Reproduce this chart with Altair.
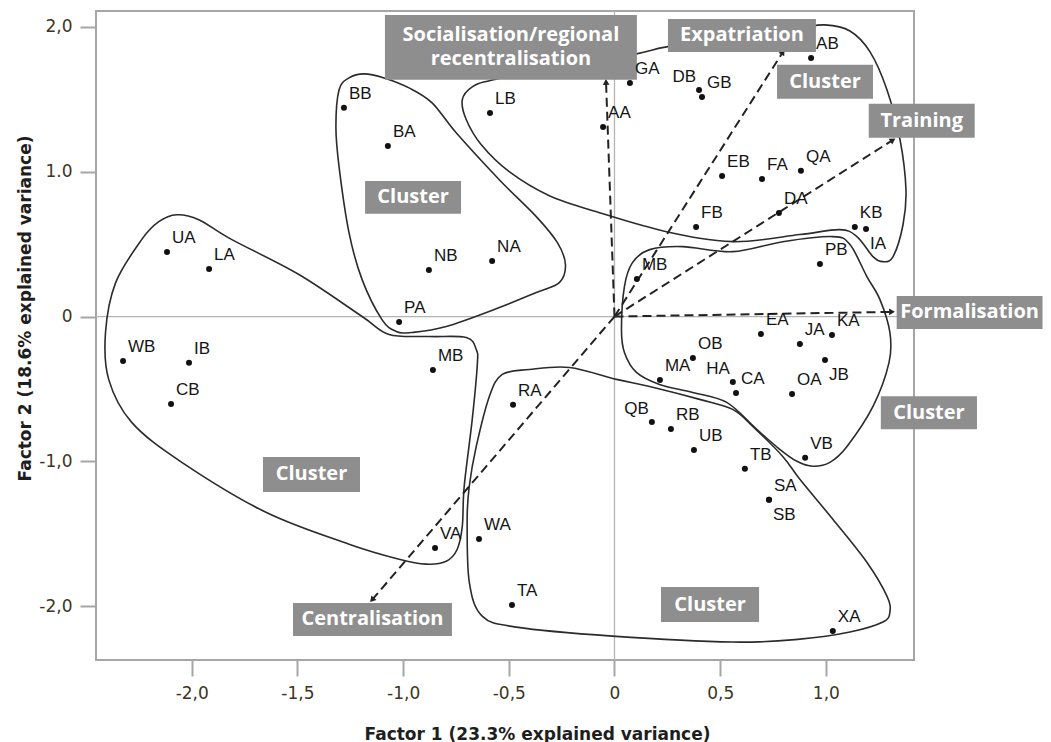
import math
import altair as alt
import pandas as pd

# ---------------- data ----------------
NAMES = ["AB", "GA", "DB", "GB", "LB", "AA", "BB", "BA", "EB", "FA", "QA", "DA", "FB", "KB", "IA", "PB",
         "UA", "LA", "NB", "NA", "MB", "PA", "EA", "JA", "KA", "OB", "MA", "HA", "CA", "OA", "JB",
         "WB", "IB", "CB", "MB", "RA", "QB", "RB", "UB", "TB", "SA", "SB", "VB", "XA", "VA", "WA", "TA"]
F1 = [0.930, 0.073, 0.400, 0.414, -0.589, -0.054, -1.280, -1.072, 0.509, 0.698, 0.882, 0.778, 0.386, 1.137, 1.190, 0.972,
      -2.117, -1.918, -0.878, -0.579, 0.106, -1.019, 0.693, 0.877, 1.029, 0.371, 0.215, 0.560, 0.575, 0.840, 0.996,
      -2.325, -2.013, -2.098, -0.859, -0.480, 0.177, 0.267, 0.376, 0.617, 0.731, 0.731, 0.902, 1.033, -0.849, -0.641, -0.485]
F2 = [1.786, 1.613, 1.565, 1.516, 1.406, 1.309, 1.441, 1.178, 0.971, 0.950, 1.006, 0.715, 0.619, 0.619, 0.605, 0.363,
      0.446, 0.329, 0.322, 0.384, 0.260, -0.037, -0.120, -0.189, -0.127, -0.286, -0.438, -0.452, -0.528, -0.535, -0.300,
      -0.307, -0.320, -0.604, -0.369, -0.610, -0.728, -0.776, -0.921, -1.052, -1.266, -1.266, -0.976, -2.171, -1.598, -1.536, -1.992]
LEFT_LABELS = ["DB", "HA", "QB"]
BELOW_LABELS = ["JB", "SB", "IA"]

# cluster outlines (closed curves, data units)
CLUSTER_A = [(-0.720, 1.497), (-0.673, 1.586), (-0.578, 1.634), (-0.261, 1.724), (0.104, 1.814), (0.246, 1.862),
             (0.592, 1.938), (0.877, 1.993), (0.995, 2.014), (1.114, 1.972), (1.209, 1.828), (1.289, 1.566),
             (1.351, 1.221), (1.379, 0.876), (1.365, 0.634), (1.318, 0.414), (1.270, 0.379), (1.223, 0.414),
             (1.147, 0.552), (1.066, 0.600), (0.877, 0.566), (0.559, 0.517), (0.246, 0.586), (-0.071, 0.717),
             (-0.308, 0.834), (-0.498, 1.000), (-0.630, 1.186), (-0.701, 1.359)]
CLUSTER_B = [(-1.303, 1.566), (-1.256, 1.648), (-1.185, 1.676), (-1.090, 1.648), (-0.972, 1.579), (-0.863, 1.476),
             (-0.749, 1.269), (-0.545, 0.945), (-0.370, 0.690), (-0.270, 0.510), (-0.232, 0.359), (-0.261, 0.234),
             (-0.370, 0.166), (-0.545, 0.062), (-0.796, -0.069), (-0.957, -0.110), (-1.033, -0.103),
             (-1.100, -0.021), (-1.194, 0.255), (-1.256, 0.579), (-1.303, 1.034), (-1.318, 1.310)]
CLUSTER_C = [(-2.071, 0.703), (-1.967, 0.669), (-1.810, 0.531), (-1.493, 0.290), (-1.194, 0.000), (-1.066, -0.124),
             (-0.877, -0.138), (-0.701, -0.145), (-0.654, -0.228), (-0.649, -0.331), (-0.673, -0.710),
             (-0.711, -1.172), (-0.720, -1.448), (-0.744, -1.607), (-0.796, -1.690), (-0.891, -1.710),
             (-1.019, -1.676), (-1.256, -1.572), (-1.649, -1.352), (-2.047, -1.007), (-2.284, -0.731),
             (-2.393, -0.434), (-2.408, -0.110), (-2.360, 0.234), (-2.237, 0.531), (-2.156, 0.655)]
CLUSTER_D = [(0.085, 0.372), (0.166, 0.462), (0.322, 0.483), (0.559, 0.448), (0.796, 0.517), (1.033, 0.552),
             (1.114, 0.497), (1.194, 0.276), (1.256, 0.117), (1.303, -0.110), (1.299, -0.317), (1.223, -0.621),
             (1.100, -0.897), (1.019, -1.007), (0.938, -1.034), (0.863, -1.000), (0.782, -0.917), (0.673, -0.779),
             (0.531, -0.593), (0.370, -0.524), (0.213, -0.469), (0.104, -0.386), (0.047, -0.248), (0.033, -0.090),
             (0.047, 0.207)]
CLUSTER_E = [(-0.531, -0.400), (-0.403, -0.366), (-0.213, -0.352), (0.009, -0.434), (0.166, -0.483), (0.403, -0.572),
             (0.559, -0.641), (0.654, -0.759), (0.796, -0.966), (0.877, -1.124), (1.033, -1.400), (1.194, -1.697),
             (1.289, -1.931), (1.303, -2.041), (1.270, -2.110), (1.114, -2.179), (0.877, -2.228), (0.559, -2.248),
             (-0.009, -2.207), (-0.464, -2.145), (-0.626, -2.069), (-0.687, -1.834), (-0.697, -1.400),
             (-0.687, -1.172), (-0.654, -0.897), (-0.592, -0.552)]

# factor arrows (end points)
ARROW_X = [-0.040, 0.797, 1.317, 1.313, -1.147]
ARROW_Y = [1.620, 1.827, 1.219, 0.032, -1.957]

# grey label boxes (one entry per box; lines separated by "\n")
BOX_TEXT = ["Socialisation/regional\nrecentralisation", "Expatriation", "Cluster", "Training", "Formalisation",
            "Cluster", "Cluster", "Cluster", "Centralisation", "Cluster"]
BOX_X1 = [-1.086, 0.253, 0.769, 1.203, 1.335, -1.180, 1.260, -1.663, -1.521, 0.220]
BOX_X2 = [0.106, 0.953, 1.223, 1.704, 2.025, -0.726, 1.715, -1.204, -0.769, 0.684]
BOX_Y1 = [1.635, 1.827, 1.504, 1.234, -0.086, 0.709, -0.778, -1.211, -2.206, -2.110]
BOX_Y2 = [2.083, 2.055, 1.738, 1.469, 0.142, 0.936, -0.550, -0.970, -1.978, -1.868]

X_TICKS = [-2, -1.5, -1, -0.5, 0, 0.5, 1]
X_LABELS = ["-2,0", "-1,5", "-1,0", "-0,5", "0", "0,5", "1,0"]
Y_TICKS = [-2, -1, 0, 1, 2]
Y_LABELS = ["-2,0", "-1,0", "0", "1.0", "2,0"]

X_DOMAIN = [-2.453, 1.417]
Y_DOMAIN = [-2.372, 2.110]
W, H = 818, 649
LINE_PX = 24  # leading of the two-line box label

# ---------------- tables ----------------
pts = pd.DataFrame({"name": NAMES, "f1": F1, "f2": F2})
pts["place"] = ["ul" if n in LEFT_LABELS else ("dr" if n in BELOW_LABELS else "ur") for n in NAMES]

rows = []
for cid, poly in enumerate([CLUSTER_A, CLUSTER_B, CLUSTER_C, CLUSTER_D, CLUSTER_E]):
    for i, (a, b) in enumerate(poly):
        rows.append({"cl": cid, "i": i, "f1": a, "f2": b})
outl = pd.DataFrame(rows)

sx = W / (X_DOMAIN[1] - X_DOMAIN[0])
sy = H / (Y_DOMAIN[1] - Y_DOMAIN[0])
arr = pd.DataFrame({"x0": [0.0] * len(ARROW_X), "y0": [0.0] * len(ARROW_X), "f1": ARROW_X, "f2": ARROW_Y})
arr["angle"] = [(math.degrees(math.atan2(a * sx, b * sy)) + 360) % 360 for a, b in zip(ARROW_X, ARROW_Y)]

boxes = pd.DataFrame({"x1": BOX_X1, "x2": BOX_X2, "y1": BOX_Y1, "y2": BOX_Y2})
trows = []
for t, a, b, c, d in zip(BOX_TEXT, BOX_X1, BOX_X2, BOX_Y1, BOX_Y2):
    lines = t.split("\n")
    cx, cy = (a + b) / 2, (c + d) / 2
    n = len(lines)
    for k, ln in enumerate(lines):
        trows.append({"t": ln, "cx": cx, "cy": cy + ((n - 1) / 2 - k) * LINE_PX / sy})
btext = pd.DataFrame(trows)


def lab_expr(vals, labs):
    return " : ".join(f"datum.value == {v} ? '{l}'" for v, l in zip(vals, labs)) + " : ''"


xscale = alt.Scale(domain=X_DOMAIN, nice=False, zero=False)
yscale = alt.Scale(domain=Y_DOMAIN, nice=False, zero=False)
xaxis = alt.Axis(values=X_TICKS, labelExpr=lab_expr(X_TICKS, X_LABELS),
                 title="Factor 1 (23.3% explained variance)", titleX=441, titleY=79,
                 titleAlign="center", titleBaseline="alphabetic")
yaxis = alt.Axis(values=Y_TICKS, labelExpr=lab_expr(Y_TICKS, Y_LABELS),
                 title="Factor 2 (18.6% explained variance)", titleX=-66, titleY=297, titleAngle=270,
                 titleAlign="center", titleBaseline="alphabetic")


def X(f):
    return alt.X(f, type="quantitative", scale=xscale, axis=xaxis)


def Y(f):
    return alt.Y(f, type="quantitative", scale=yscale, axis=yaxis)


zero = pd.DataFrame({"v": [0.0]})
vzero = alt.Chart(zero).mark_rule(color="#b4b4b4", strokeWidth=1.3).encode(x=X("v"))
hzero = alt.Chart(zero).mark_rule(color="#b4b4b4", strokeWidth=1.3).encode(y=Y("v"))

outlines = alt.Chart(outl).mark_line(interpolate="cardinal-closed", color="#2b2b2b", strokeWidth=1.6).encode(
    x=X("f1"), y=Y("f2"), detail="cl:N", order="i:Q")

arrow_lines = alt.Chart(arr).mark_rule(color="#222222", strokeWidth=2, strokeDash=[9, 5]).encode(
    x=X("x0"), y=Y("y0"), x2="f1:Q", y2="f2:Q")
arrow_heads = alt.Chart(arr).mark_point(shape="triangle-up", filled=True, size=45, color="#222222", opacity=1).encode(
    x=X("f1"), y=Y("f2"), angle=alt.Angle("angle:Q", scale=None))

box_rects = alt.Chart(boxes).mark_rect(color="#8e8e8e").encode(x=X("x1"), x2="x2:Q", y=Y("y1"), y2="y2:Q")
box_text = alt.Chart(btext).mark_text(font="Open Sans", fontSize=20, fontWeight="bold", color="white",
                                      align="center", baseline="middle").encode(
    x=X("cx"), y=Y("cy"), text="t:N")

dots = alt.Chart(pts).mark_circle(size=36, color="#111111", opacity=1).encode(x=X("f1"), y=Y("f2"))


def labels(place, align, dx, dy):
    return alt.Chart(pts).transform_filter(alt.datum.place == place).mark_text(
        font="Liberation Sans", fontSize=17, color="#151515", align=align, baseline="alphabetic", dx=dx, dy=dy
    ).encode(x=X("f1"), y=Y("f2"), text="name:N")


chart = alt.layer(
    vzero, hzero, outlines, arrow_lines, arrow_heads, box_rects, box_text, dots,
    labels("ur", "left", 5, -9), labels("ul", "right", -3, -8), labels("dr", "left", 4, 20),
).properties(
    width=W, height=H,
    autosize=alt.AutoSizeParams(type="none"),
    padding={"left": 88, "top": 3, "right": 129, "bottom": 82},
).configure_view(
    stroke="#a6a6a6", strokeWidth=2
).configure_axis(
    domain=False, grid=False, ticks=True, tickColor="#a6a6a6", tickWidth=2, tickSize=16,
    labelFont="DejaVu Sans", labelFontSize=17, labelColor="#3d3422",
    titleFont="DejaVu Sans", titleFontSize=17, titleFontWeight="bold", titleColor="#1e1e1e",
).configure_axisX(labelPadding=9).configure_axisY(labelPadding=8)

chart.save("out.html", embed_options={"renderer": "svg", "actions": False})
